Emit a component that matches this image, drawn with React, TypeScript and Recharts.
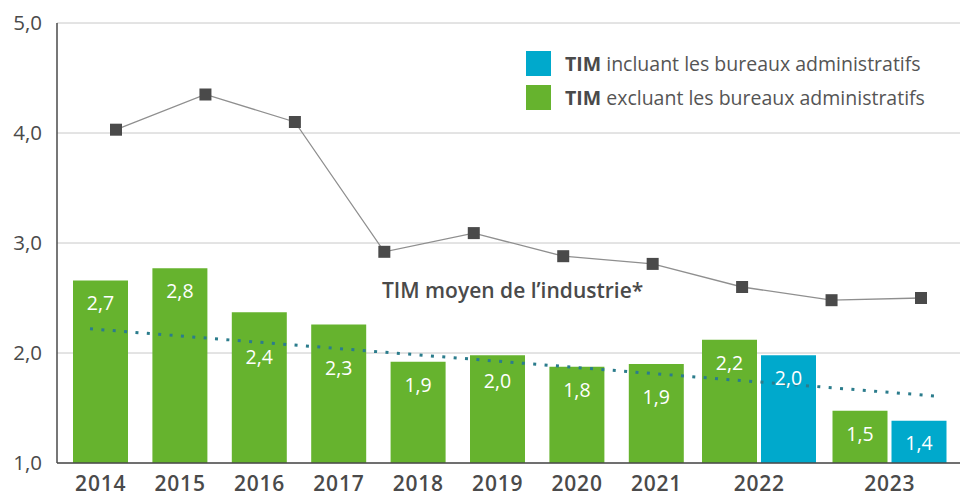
import { ComposedChart, Bar, Line, XAxis, YAxis, CartesianGrid, Legend, LabelList } from 'recharts'

const years = ['2014', '2015', '2016', '2017', '2018', '2019', '2020', '2021', '2022', '2023']
// TIM excluant les bureaux administratifs (vert)
const timExcl = [2.66, 2.77, 2.37, 2.26, 1.92, 1.98, 1.875, 1.9, 2.12, 1.475]
const timExclLabels = ['2,7', '2,8', '2,4', '2,3', '1,9', '2,0', '1,8', '1,9', '2,2', '1,5']
// TIM incluant les bureaux administratifs (bleu), seulement 2022-2023
const timIncl: (number | null)[] = [null, null, null, null, null, null, null, null, 1.98, 1.385]
const timInclLabels: (string | null)[] = [null, null, null, null, null, null, null, null, '2,0', '1,4']
// TIM moyen de l'industrie
const industryAvg = [4.03, 4.35, 4.1, 2.92, 3.09, 2.88, 2.81, 2.6, 2.48, 2.5]
// tendance pointillée (début / fin)
const trendYears = ['2014', '2023']
const trendValues = [2.22, 1.61]
const yTicks = [1, 2, 3, 4, 5]

const GREEN = '#66b32e'
const BLUE = '#00a9cc'
const TEXT = '#4a4a4a'

const rows = years.map((year, i) => {
  const paired = timIncl[i] != null
  return {
    year,
    single: paired ? null : timExcl[i],
    singleLabel: paired ? null : timExclLabels[i],
    pairExcl: paired ? timExcl[i] : null,
    pairExclLabel: paired ? timExclLabels[i] : null,
    incl: timIncl[i],
    inclLabel: timInclLabels[i],
  }
})
const industryRows = years.map((year, i) => ({ year, value: industryAvg[i] }))
const trendRows = trendYears.map((year, i) => ({ year, value: trendValues[i] }))

const singleYears = rows.filter(r => r.single != null).map(r => r.year)
const pairYears = rows.filter(r => r.incl != null).map(r => r.year)

// labels moved down where the trend line would cross them
const labelDrop: Record<string, number> = { '2016': 38, '2017': 37, '2019': 19, '2021': 26 }

const fmt = (v: number) => v.toFixed(1).replace('.', ',')

function yearTick(show: string[], dy: number) {
  return (props: any) => {
    const { x, y, payload } = props
    if (!show.includes(payload.value)) return <g />
    return (
      <text x={x} y={y} dy={dy} textAnchor="middle" fill={TEXT} fontSize={21} fontWeight={600} letterSpacing={0.8}>
        {payload.value}
      </text>
    )
  }
}

function barLabel(yearsOnAxis: string[]) {
  return (props: any) => {
    const { value, index } = props
    if (value == null) return null
    const vb = props.viewBox ?? props
    const { x, y, width } = vb
    const drop = labelDrop[yearsOnAxis[index]] ?? 16
    return (
      <text x={x + width / 2} y={y + drop + 13.8} textAnchor="middle" fill="#fff" fontSize={19.5} fontWeight={500}>
        {value}
      </text>
    )
  }
}

function SquareDot(props: any) {
  const { cx, cy, index } = props
  if (cx == null || cy == null) return <g key={index} />
  return <rect key={index} x={cx - 6} y={cy - 6} width={12} height={12} fill="#4a4a4a" />
}

function LegendBox() {
  const items = [
    { color: BLUE, text: 'incluant les bureaux administratifs' },
    { color: GREEN, text: 'excluant les bureaux administratifs' },
  ]
  return (
    <div>
      {items.map(it => (
        <div key={it.text} style={{ display: 'flex', alignItems: 'center', height: 25, marginBottom: 9 }}>
          <span style={{ width: 25, height: 25, background: it.color, display: 'inline-block', marginRight: 14 }} />
          <span style={{ fontSize: 19.5, color: '#555', whiteSpace: 'nowrap' }}>
            <b style={{ fontWeight: 700, color: TEXT }}>TIM</b> {it.text}
          </span>
        </div>
      ))}
    </div>
  )
}

export default function App() {
  return (
    <div style={{ position: 'absolute', left: 0, top: 0, width: 960, height: 493, fontFamily: "'Open Sans', sans-serif" }}>
      <ComposedChart width={960} height={493} data={rows} margin={{ top: 23, right: 0, bottom: 0, left: 0 }}>
        <CartesianGrid xAxisId="a" vertical={false} stroke="#c8c8c8" />
        <XAxis
          xAxisId="a"
          dataKey="year"
          type="category"
          height={1}
          interval={0}
          padding={{ left: 4, right: 105 }}
          tickLine={false}
          tickSize={0}
          tickMargin={0}
          axisLine={{ stroke: TEXT, strokeWidth: 1.5 }}
          tick={yearTick(singleYears, 28)}
        />
        <XAxis
          xAxisId="b"
          dataKey="year"
          type="category"
          height={29}
          interval={0}
          padding={{ left: -407, right: 5 }}
          tickLine={false}
          tickSize={0}
          tickMargin={0}
          axisLine={false}
          tick={yearTick(pairYears, 27)}
        />
        <XAxis xAxisId="line" dataKey="year" type="category" scale="point" hide height={0} padding={{ left: 59, right: 39 }} />
        <XAxis xAxisId="trend" dataKey="year" type="category" scale="point" hide height={0} padding={{ left: 33, right: 26 }} />
        <YAxis
          width={57}
          domain={[1, 5]}
          ticks={yTicks}
          allowDataOverflow
          tickFormatter={fmt}
          tickLine={false}
          tickSize={0}
          tickMargin={15}
          axisLine={{ stroke: TEXT, strokeWidth: 1.5 }}
          tick={{ fill: TEXT, fontSize: 20.5, fontWeight: 500 }}
        />
        <Legend
          layout="vertical"
          align="center"
          verticalAlign="middle"
          wrapperStyle={{ top: 51, left: 526, width: 'auto' }}
          content={() => <LegendBox />}
        />
        <Bar xAxisId="a" dataKey="single" fill={GREEN} barSize={55} isAnimationActive={false}>
          <LabelList dataKey="singleLabel" content={barLabel(years)} />
        </Bar>
        <Bar xAxisId="b" dataKey="pairExcl" fill={GREEN} barSize={55} isAnimationActive={false}>
          <LabelList dataKey="pairExclLabel" content={barLabel(years)} />
        </Bar>
        <Bar xAxisId="b" dataKey="incl" fill={BLUE} barSize={55} isAnimationActive={false}>
          <LabelList dataKey="inclLabel" content={barLabel(years)} />
        </Bar>
        <Line
          xAxisId="trend"
          data={trendRows}
          dataKey="value"
          stroke="#2b7c8c"
          strokeWidth={3}
          strokeDasharray="3 8.4"
          dot={false}
          activeDot={false}
          isAnimationActive={false}
        />
        <Line
          xAxisId="line"
          data={industryRows}
          dataKey="value"
          stroke="#8f8f8f"
          strokeWidth={1.3}
          dot={<SquareDot />}
          activeDot={false}
          isAnimationActive={false}
        />
      </ComposedChart>
      <div
        style={{
          position: 'absolute',
          left: 382,
          top: 280,
          fontSize: 21,
          lineHeight: '21px',
          fontWeight: 600,
          color: TEXT,
          whiteSpace: 'nowrap',
        }}
      >
        TIM moyen de l’industrie*
      </div>
    </div>
  )
}
